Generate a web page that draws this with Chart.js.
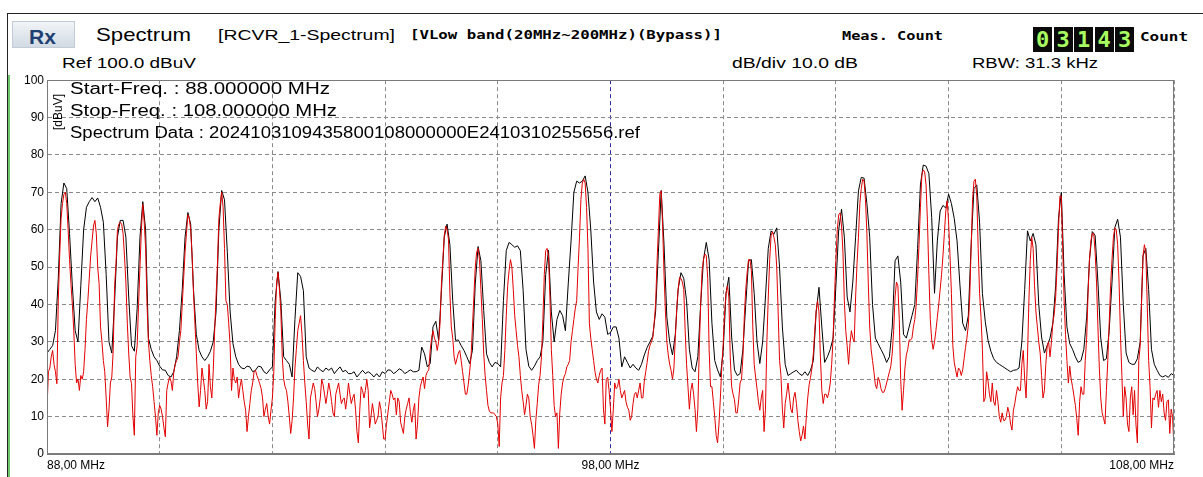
<!DOCTYPE html>
<html>
<head>
<meta charset="utf-8">
<script src="https://cdn.jsdelivr.net/npm/chart.js@4.4.1/dist/chart.umd.min.js"></script>
<style>
html,body{margin:0;padding:0;background:#fff;}
body{width:1203px;height:477px;position:relative;overflow:hidden;font-family:"Liberation Sans",Arial,sans-serif;color:#000;}
.t{position:absolute;white-space:nowrap;line-height:1;transform-origin:0 0;}
.mono{font-family:"DejaVu Sans Mono",monospace;font-weight:bold;}
#frameTop{position:absolute;left:7px;top:13px;width:1196px;height:1px;background:#222;}
#frameLeft{position:absolute;left:7px;top:13px;width:1px;height:464px;background:#222;}
#frameGreen{position:absolute;left:8px;top:75px;width:2px;height:402px;background:#6fc66f;}
#rx{position:absolute;left:12px;top:21px;width:63px;height:27px;background:linear-gradient(#f1f4f7,#d2dae3);border:1px solid #c3ccd6;box-sizing:border-box;}
#rx span{position:absolute;left:16px;top:3px;font:bold 21px "Liberation Sans Narrow","Liberation Sans",sans-serif;color:#203f72;}
#digits{position:absolute;left:1033px;top:27px;height:25px;}
#digits span{display:inline-block;width:19px;height:25px;margin-right:1.5px;background:#0b0b0b;color:#a8ff60;font:bold 22px/25px "DejaVu Sans Mono",monospace;text-align:center;vertical-align:top;}
#unit{position:absolute;left:52px;top:84px;transform-origin:0 0;transform:translate(0,46px) rotate(-90deg);font-size:12px;line-height:1;white-space:nowrap;}
#plot{position:absolute;left:0;top:70px;}
</style>
</head>
<body>
<div id="frameTop"></div>
<div id="frameLeft"></div>
<div id="frameGreen"></div>
<div id="rx"><span>Rx</span></div>
<div class="t" style="left:96px;top:25px;font-size:19px" data-w="95">Spectrum</div>
<div class="t" style="left:218px;top:27px;font-size:15px" data-w="177">[RCVR_1-Spectrum]</div>
<div class="t mono" style="left:410px;top:29px;font-size:12px" data-w="312">[VLow band(20MHz~200MHz)(Bypass)]</div>
<div class="t mono" style="left:842px;top:29px;font-size:13px" data-w="101">Meas. Count</div>
<div id="digits"><span>0</span><span>3</span><span>1</span><span>4</span><span>3</span></div>
<div class="t mono" style="left:1140px;top:30px;font-size:13px" data-w="48">Count</div>
<div class="t" style="left:62px;top:55px;font-size:15px" data-w="134">Ref 100.0 dBuV</div>
<div class="t" style="left:732px;top:55px;font-size:15px" data-w="126">dB/div 10.0 dB</div>
<div class="t" style="left:972px;top:55px;font-size:15px" data-w="126">RBW: 31.3 kHz</div>
<canvas id="plot" width="1203" height="407"></canvas>
<div id="unit">[dBuV]</div>
<div class="t" style="left:70px;top:81px;font-size:16px" data-w="260">Start-Freq. : 88.000000 MHz</div>
<div class="t" style="left:70px;top:103px;font-size:16px" data-w="267">Stop-Freq. : 108.000000 MHz</div>
<div class="t" style="left:70px;top:125px;font-size:16px" data-w="570">Spectrum Data : 2024103109435800108000000E2410310255656.ref</div>
<script>
// sweep 88 - 108 MHz
const startFreq = 88;
const holdStep = 0.05;   // black trace, one reading every 50 kHz
const liveStep = 0.025;  // red trace, one reading every 25 kHz

// black trace (max hold), dBuV, one row per MHz
const maxHold = [
  27,28,29,33,47,67,72.5,71,59,45,33,30,45,60,66,67.5,68.6,67.5,68.5,66,
  62,48,30,27,41,58,62.5,62.5,58,42,29,27.5,39,58,67.5,60,31,28,26,25,
  23.5,22.5,22.4,21,20.6,22,26,33,44,58,64.6,61.5,44,32,27.7,26,25,26,27.5,30,
  38,60,70.5,68,54,38,29.5,26,24,23,22.8,23.5,23.3,22,22.4,23.5,23.3,22,21.5,22.5,
  23.3,41,48.8,41,26,25,24,20.6,36,48.5,47.5,43.7,26,23,22.4,22,23.3,22.5,22,23,
  22.4,23,21.5,22.5,23.3,22,22.4,21.5,21.5,22,20.6,21.5,22.4,21.5,22,21.5,20.6,21.5,20.6,22,
  21.5,22.5,22.4,21.5,22,22.8,22.4,21.5,22,22.5,22,22,22.4,28.6,26.8,23.3,24.2,34,35.5,30.4,
  43.7,58,61.5,56,41,30.4,30.5,29,27.7,26,24.2,27.7,45.5,55.5,51.7,38.4,26.8,24.5,23.3,24.5,
  24.2,23.3,41,54.4,56.6,56,55.3,55.7,54.4,43.7,28,23.5,22.4,23.5,25,26,30,48,54.5,38,
  30,36,38.4,37,33,45.5,57,70,73,72.5,73,74.4,70,60,46,38,36,37.5,36.6,32,
  32.5,34,34,31,23.3,26,24.5,23,24,23,22.4,24,26.5,28.5,30,31.5,38,54,70.5,56,
  36.6,30,26.5,32,44,48.5,47,41,28,23,22,26,40,52,56.6,52,35,25,22.5,20.6,
  27.7,43,47.3,31.3,22.5,21,21.5,28,40,51.7,52,43,30,24.2,30,42,55,59.7,58.8,60.5,
  50,34,24,21,21.5,22,22.4,21.5,21,22,21,22.4,25,38,44.6,34,24.5,26,28,31,
  45,60,65.5,58,42,38,46,58,70.4,74,73.8,67,58,40,31,29.5,28,26.5,24.5,26,
  34,51.7,53,46,32,31,34,37,40,55,72,77.3,77,75,63.3,43,57,65,66.5,65.8,
  69.5,67,63,57,45.5,35,33,37,56,71,72,62,43,35.5,30.4,27.5,25.5,24.5,24,23.5,
  23,22.5,22,22.4,22.5,23,30,44,59.7,57,59,56,40,31.3,27,29,31,35,45,63,
  70,48,34,29.5,28,26,24.5,25,28,36.6,52,59.5,58.5,46,31,25,25.5,33,46,60.6,
  62.8,58,40,27,24.5,24,24,25.5,30,53,55,44,28,24,22.4,21,20.6,21,20.5,21.5,
  21
];

// red trace (current sweep), dBuV, one row per MHz
const liveTrace = [
  12,22,23,26,27.7,24,22,18.8,41,53,63,67,69.5,70,67,60,52,45.5,40,33,24,19,20,17,21,20,22,28,36,41,47,53,57,61,62.5,59,50,45.5,34,30,
  25,22,15,7.3,12,19,20.6,27.7,45,51,60,61.5,62,61.5,59,53,46,35,27,20.6,18.8,10,5,26,29,40,50,60,66.8,62,55,40,30,25,21,18,14,10,5,11,
  13,12,10,7,4.6,17,19,20.6,19.5,17,22,24,25,26,30,33,40,47,54,59,64,63,60,53,43,35,27,18.8,12.6,17,23,20,17,12,14,24,18,15,22,33,
  42,51,63,67,70,66,55,41,40,35,29,17,23,20,19,20.6,15,18,20,17,14,11.7,6,10,13.5,17,19,22,22.4,21,20,18.8,17.5,15,10,12,13.5,10,8,11.7,
  15,22,36,46,48.5,44,38,26,20,18,17,14,10,5.5,9,15,23,28,33,35,37,32,25,19,14,8,4,15,17,19,17.5,14,10,12,15,20,18.5,16,13.5,16,
  19,17,14,11,10,16,17.5,19,16,13.5,14.5,15,12,15,19,16,13.5,15,16,12,6,3,11.7,18,17,15,17,20,17,7,10,13.5,11,8,9,10,14,12,8,4,
  4,8,11,14,17,16,14.5,15,10.5,15,14,8.5,7,5.5,10,12,13.5,15,11,8.5,11.7,13.5,4,8,15,18,19.5,20.6,17.5,21,22,22.5,27.7,31,33,31,30,27.7,30,35,
  45.5,52,58.5,61,60,57.5,43,34,31,26,24,25.5,27,27.7,25,22,19,16,16,18.5,22,26,34,42,50,54,55,52,44,36,27,21,17,13,11.5,11,11,11,10.5,10,
  8,2,15,19,21,27.7,37,45,49,52,50,44,37,33,29,26,21,17,14,10.5,13,16,15,10,8,5,1.5,9,13.5,18.5,21,26,36,48,54.4,55,53,42,28,21,
  13,10,11,1.5,11,16,19,20.6,21.5,23.3,24,25,30,33,36,39,41,50,58,68,72.5,73.5,72.5,66,55,35,31,28,25,22,20,19,21,22.4,23,12,8,20,20.5,17,
  12,6,12,19,17.5,18,20,17,15,16,17,14,12.5,11.7,9,10,13.5,16,16.5,15,17,19,15,15,19.5,22,24.5,27.5,29,30,31,35,40,51,60,69.5,70.4,61,48,38,
  30,26.5,24,22.4,20,23,31,39,44,47.3,47,46,44,33,24,18,12,17,19,16,12,6,12,28,40,49,52,53.5,53,47,28,18,18,14,10,5,3,8,15,23.3,
  29.5,38,43,45,42,26,18,16,14.5,11,11,14.5,19,20,26,37,44,48.5,52,52,49,34,24,20.6,17.5,14,11.7,15,17,6,12,30,42,52,58.5,59.5,58,56,50,38,
  25,21,12,7,13.5,16,19,15.5,12,11,15,16.5,13.5,9,6,3.5,5,7.5,4,10,15,18.5,20.5,23,27,33,38.4,41,38,26,17,13.5,16,16,15,16.5,19,24,31,42,
  52,60,64,64.5,61,54,41,33,29,24,29.5,33,31,30,42,51,58,67,71,73.5,73,68,59,45.5,34,28,25,22,18.5,17.5,20.5,19.5,17.5,16.5,16.5,17.5,19,20.5,22,23.5,
  27,33,42,46,45,36,20,11.7,17,23,26.5,28,30.5,30.5,31,34,36,40,47,56,66,74.5,76,75.5,72,62,48,36,30.5,28,30,33,36.6,40,44,48,53,59,65,67.7,
  62,53,43,29,24.5,22.5,20.6,23,22.5,21,22.5,25.5,28.5,31,34.5,42,55,68,73,73.5,69,55,43,36.6,28,14,15,22,19.5,16,14,19,14,13,17,14,10,8.5,11,9,
  9,10,12.5,11,8,6.4,11.7,13.5,16,18,17,17,24,27.7,20,15,26,41,52,58,55,45,38,34,30,27,21,15,17,24,29,30,26,30,35,37.5,42,50,60,69,
  69,55,41,32,25,19,23.5,20,18,15.5,13,9.5,5,14,18,16,16,25,31,43,52,57,59,59,54,46,34,23,15,11,9.5,8,17,25,35,45,52,58,60.5,60,
  56,46,32,21,10,18,15,8,6,15,18,10.5,17,8,3,25,29,41,53,56,54,40,25,18,7,15,14.5,16,17,12.5,17,14,16,11,9,14,14.5,5.5,12,10,
  1
];

// axis
const xGridMHz = [88,90,92,94,96,98,100,102,104,106,108];
const xTickText = {88:"88,00 MHz", 98:"98,00 MHz", 108:"108,00 MHz"};
const centerMHz = 98;

Chart.defaults.font.family = '"Liberation Sans", Arial, sans-serif';

//plot frame, solid grey round the chart area
const framePlugin = {
  id: "frame",
  afterDraw(chart) {
    const a = chart.chartArea;
    const c = chart.ctx;
    c.save();
    c.strokeStyle = "#7a7a7a";
    c.lineWidth = 1;
    c.strokeRect(Math.round(a.left) + 0.5, Math.round(a.top) + 0.5, Math.round(a.right - a.left) - 1, Math.round(a.bottom - a.top) - 1);
    c.restore();
  }
};

const ctx = document.getElementById("plot").getContext("2d");
const spectrumChart = new Chart(ctx, {
  type: "line",
  data: {
    datasets: [
      {
        label: "Live",
        data: liveTrace.map((v, i) => ({x: startFreq + i * liveStep, y: v})),
        borderColor: "#e30000",
        borderWidth: 1,
        pointRadius: 0,
        tension: 0,
        order: 0
      },
      {
        label: "Max Hold",
        data: maxHold.map((v, i) => ({x: startFreq + i * holdStep, y: v})),
        borderColor: "#000000",
        borderWidth: 1,
        pointRadius: 0,
        tension: 0,
        order: 1
      }
    ]
  },
  options: {
    responsive: false,
    animation: false,
    devicePixelRatio: 1,
    layout: {padding: {left: 0, right: 29, top: 9, bottom: 0}},
    plugins: {legend: {display: false}, tooltip: {enabled: false}},
    scales: {
      x: {
        type: "linear",
        min: 88,
        max: 108,
        afterBuildTicks: s => { s.ticks = xGridMHz.map(v => ({value: v})); },
        afterFit: s => { s.height = 23; },
        ticks: {
          autoSkip: false,
          maxRotation: 0,
          align: "inner",
          padding: 4,
          color: "#000",
          font: {size: 12},
          callback: v => xTickText[v] || ""
        },
        grid: {
          drawTicks: false,
          color: c => (c.tick && c.tick.value === centerMHz) ? "#2a2aa8" : "#8a8a8a"
        },
        border: {display: true, color: "#7a7a7a", dash: [4, 3]}
      },
      y: {
        min: 0,
        max: 100,
        afterFit: s => { s.width = 47; },
        ticks: {stepSize: 10, padding: 3, color: "#000", font: {size: 12}},
        grid: {drawTicks: false, color: "#8a8a8a"},
        border: {display: true, color: "#7a7a7a", dash: [4, 3]}
      }
    }
  },
  plugins: [framePlugin]
});

// squeeze the header texts to the widths of the original screen
document.fonts.ready.then(() => {
  document.querySelectorAll("[data-w]").forEach(el => {
    const w = el.getBoundingClientRect().width;
    el.style.transform = "scaleX(" + (el.dataset.w / w) + ")";
  });
});
</script>
</body>
</html>
